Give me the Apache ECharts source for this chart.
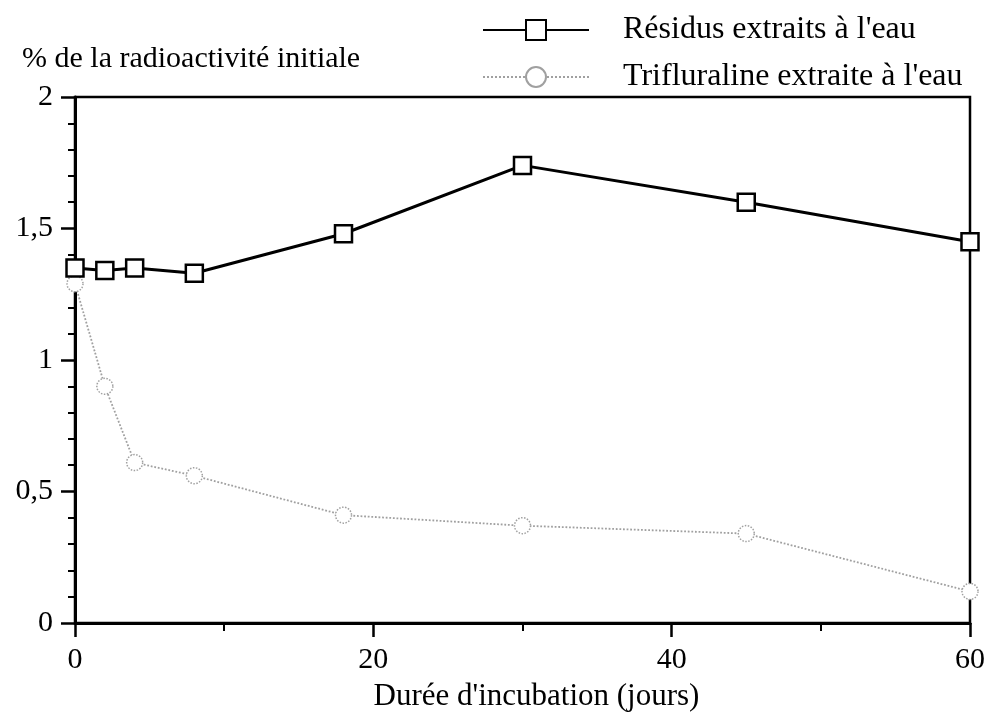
<!DOCTYPE html>
<html><head><meta charset="utf-8">
<script src="https://cdn.jsdelivr.net/npm/echarts@6/dist/echarts.min.js"></script>
<style>html,body{margin:0;padding:0;background:#fff}#c{width:990px;height:717px}</style>
</head><body><div id="c"></div>
<script>
const days = [0, 2, 4, 8, 18, 30, 45, 60];
const residus = [1.35, 1.34, 1.35, 1.33, 1.48, 1.74, 1.60, 1.45];
const trifluraline = [1.29, 0.90, 0.61, 0.56, 0.41, 0.37, 0.34, 0.12];
const seriesNames = ["Résidus extraits à l'eau", "Trifluraline extraite à l'eau"];
const yTitle = "% de la radioactivité initiale";
const xTitle = "Durée d'incubation (jours)";

const FONT = "Liberation Serif";
const chart = echarts.init(document.getElementById('c'));
chart.setOption({
  backgroundColor: '#fff',
  animation: false,
  textStyle: { fontFamily: FONT, color: '#000' },
  title: { text: yTitle, left: 22, top: 44, padding: 0,
    textStyle: { fontFamily: FONT, fontSize: 30, fontWeight: 'normal', color: '#000' } },
  legend: {
    orient: 'vertical', left: 482, top: 14, padding: 0, itemWidth: 106, itemHeight: 25, itemGap: 15,
    textStyle: { fontFamily: FONT, fontSize: 32, color: '#000', padding: [0, 0, 0, 29] },
    data: seriesNames
  },
  grid: { left: 75, right: 20, top: 97, bottom: 89, show: true, borderColor: '#000', borderWidth: 2.5 },
  xAxis: {
    type: 'value', min: 0, max: 60, interval: 20,
    name: xTitle, nameLocation: 'middle', nameGap: 58,
    nameTextStyle: { fontFamily: FONT, fontSize: 31, color: '#000', padding: [0, 0, 0, 28] },
    axisLine: { lineStyle: { color: '#000', width: 3 } },
    axisTick: { inside: false, length: 14, lineStyle: { color: '#000', width: 2.5 } },
    minorTick: { show: true, splitNumber: 2, length: 8, lineStyle: { color: '#000', width: 2 } },
    axisLabel: { fontFamily: FONT, fontSize: 30, color: '#000', margin: 22 },
    splitLine: { show: false }
  },
  yAxis: {
    type: 'value', min: 0, max: 2, interval: 0.5,
    axisLine: { show: true, lineStyle: { color: '#000', width: 3 } },
    axisTick: { show: true, inside: false, length: 14, lineStyle: { color: '#000', width: 2.5 } },
    minorTick: { show: true, splitNumber: 5, length: 7, lineStyle: { color: '#000', width: 2 } },
    axisLabel: { fontFamily: FONT, fontSize: 30, color: '#000', margin: 22,
      formatter: v => String(v).replace('.', ',') },
    splitLine: { show: false }
  },
  series: [
    {
      name: seriesNames[0], type: 'line',
      data: days.map((d, i) => [d, residus[i]]),
      symbol: 'rect', symbolSize: 17, showAllSymbol: true,
      lineStyle: { color: '#000', width: 3 },
      itemStyle: { color: '#fff', borderColor: '#000', borderWidth: 2.5 },
      z: 3
    },
    {
      name: seriesNames[1], type: 'line',
      data: days.map((d, i) => [d, trifluraline[i]]),
      symbol: 'circle', symbolSize: 16, showAllSymbol: true,
      lineStyle: { color: '#a0a0a0', width: 1.8, type: 'dotted' },
      itemStyle: { color: '#fff', borderColor: '#a0a0a0', borderWidth: 1.5, borderType: 'dotted' },
      z: 2
    }
  ]
});
</script></body></html>
